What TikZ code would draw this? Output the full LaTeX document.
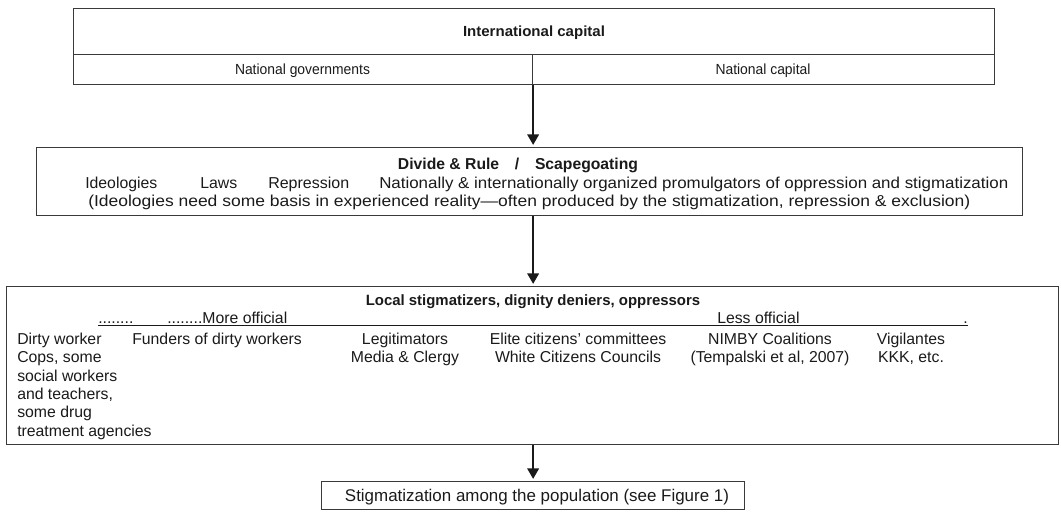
\documentclass[tikz,border=0pt]{standalone}
\usepackage{fontspec}
\setmainfont{Liberation Sans}
\usetikzlibrary{arrows.meta}
\newlength\pxu \setlength\pxu{0.75pt}
\newcommand\fitw[2]{\resizebox{#1\pxu}{\height}{#2}}
\definecolor{linegray}{HTML}{3A3A3A}
\definecolor{textblack}{HTML}{1A1A1A}
\begin{document}
\begin{tikzpicture}[x=0.75pt,y=-0.75pt,
  boxline/.style={draw=linegray,line width=0.85pt},
  cell/.style={boxline,rectangle,inner sep=0pt},
  txt/.style={inner sep=0pt,text=textblack,font=\fontsize{11.85pt}{13.7pt}\selectfont},
  smalltxt/.style={inner sep=0pt,text=textblack,font=\fontsize{11pt}{13.7pt}\selectfont},
  arr/.style={draw=textblack,line width=2pt,-{Triangle[width=8.5pt,length=8pt]},shorten >=1.5pt}]
\useasboundingbox (0,0) rectangle (1061,519);
% top box
\node[cell,minimum width=921\pxu,minimum height=46\pxu,anchor=north west] (intl) at (73,8) {};
\node[cell,minimum width=459\pxu,minimum height=30\pxu,anchor=north west] (govs) at (73,54) {};
\node[cell,minimum width=462\pxu,minimum height=30\pxu,anchor=north west] (capn) at (532,54) {};
\node[smalltxt,anchor=base] (intlt) at (534,36) {\fitw{142}{\bfseries International capital}};
\node[smalltxt,anchor=base] (govst) at (302.5,74) {\fitw{135}{National governments}};
\node[smalltxt,anchor=base] (capnt) at (763,74) {\fitw{95}{National capital}};
% box 2
\node[cell,minimum width=986\pxu,minimum height=68\pxu,anchor=north west] (box2) at (36,147) {};
\node[txt,anchor=base] (b2title) at (518,169) {\fitw{240}{\bfseries Divide \& Rule\quad/\quad Scapegoating}};
\node[txt,anchor=base west] (ideo) at (85,188) {\fitw{72}{Ideologies}};
\node[txt,anchor=base west] (laws) at (200,188) {\fitw{37}{Laws}};
\node[txt,anchor=base west] (repr) at (268,188) {\fitw{81}{Repression}};
\node[txt,anchor=base west] (natl) at (379,188) {\fitw{629}{Nationally \& internationally organized promulgators of oppression and stigmatization}};
\node[txt,anchor=base west] (b2note) at (88,206) {\fitw{882}{(Ideologies need some basis in experienced reality---often produced by the stigmatization, repression \& exclusion)}};
% box 3
\node[cell,minimum width=1052\pxu,minimum height=158\pxu,anchor=north west] (box3) at (6,286) {};
\node[txt,anchor=base,font=\fontsize{11.2pt}{13.7pt}\selectfont\bfseries] (b3title) at (533,305) {Local stigmatizers, dignity deniers, oppressors};
\node[txt,anchor=base west] (dots1) at (98,323.5) {........};
\node[txt,anchor=base west] (moreoff) at (167,323.5) {........More official};
\node[txt,anchor=base west] (lessoff) at (717,323.5) {Less official};
\node[txt,anchor=base east] (enddot) at (968,323.5) {.};
\coordinate (ulstart) at (98,325.5);
\coordinate (ulend) at (968,325.5);
\draw[draw=textblack,line width=1.1pt] (ulstart) -- (ulend);
\node[txt,anchor=north west,align=left] (dirty) at (17,333) {Dirty worker\\Cops, some\\social workers\\and teachers,\\some drug\\treatment agencies};
\node[txt,anchor=base west] (funders) at (132,344.6) {Funders of dirty workers};
\node[txt,anchor=north,align=center] (legit) at (405,333) {Legitimators\\Media \& Clergy};
\node[txt,anchor=north,align=center] (elite) at (578,333) {Elite citizens' committees\\White Citizens Councils};
\node[txt,anchor=north,align=center] (nimby) at (770,333) {NIMBY Coalitions\\(Tempalski et al, 2007)};
\node[txt,anchor=north,align=center] (vigil) at (911,333) {Vigilantes\\KKK, etc.};
% box 4
\node[cell,minimum width=423\pxu,minimum height=28\pxu,anchor=north west] (box4) at (321,481) {};
\node[txt,anchor=base,font=\fontsize{12.7pt}{14pt}\selectfont] (b4t) at (537,501) {Stigmatization among the population (see Figure 1)};
% arrows
\draw[arr] (govs.south east) -- (govs.south east |- box2.north);
\draw[arr] (box2.south -| govs.south east) -- (box3.north -| govs.south east);
\draw[arr] (box3.south -| govs.south east) -- (box4.north -| govs.south east);
\end{tikzpicture}
\end{document}
